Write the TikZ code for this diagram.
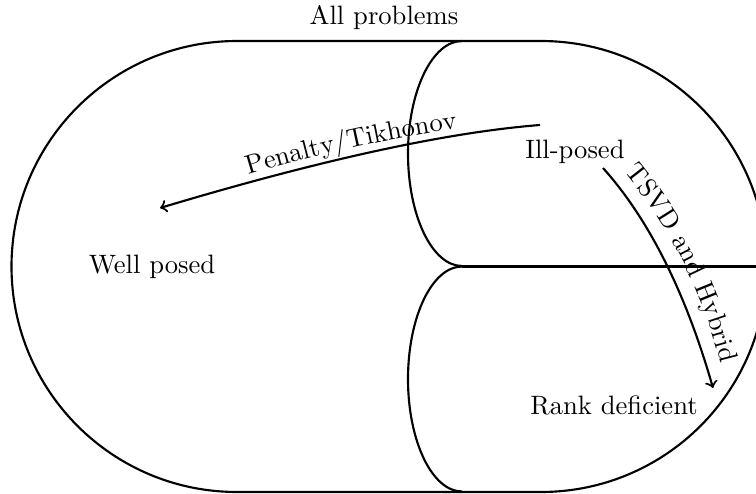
\documentclass[tikz,border=0pt]{standalone}
\usetikzlibrary{decorations.text}
\begin{document}
\begin{tikzpicture}[x=0.376pt,y=0.376pt,
  outline/.style={line width=0.8pt},
  flow/.style={->,line width=0.8pt},
  lbl/.style={inner sep=2pt},
  alongtext/.style={decorate,decoration={text along path,text={#1}}}]
\useasboundingbox (0,0) rectangle (756,493);
\begin{scope}
\clip (0,0) rectangle (756,493);
\draw[outline] (237,452) -- (541,452) arc (90:-90:225.5) -- (237,1) arc (270:90:225.5) -- cycle;
\draw[outline] (462,452) arc (90:270:54 and 112.5);
\draw[outline] (462,226.5) arc (90:270:54 and 112.5);
\draw[outline] (462,226.5) -- (800,226.5);
\end{scope}
\node[lbl] (all) at (384,475) {All problems};
\node[lbl] (ill) at (575,341) {Ill-posed};
\node[lbl] (well) at (152,226) {Well posed};
\node[lbl] (rank) at (614,88) {Rank deficient};
\coordinate (p0) at (540,368);
\coordinate (p1) at (160,285);
\coordinate (t0) at (603,325);
\coordinate (t1) at (713,105);
\draw[flow] (p0) .. controls (446.7,360.7) and (320,333) .. (p1);
\draw[flow] (t0) .. controls (649,273.7) and (685.7,200.3) .. (t1);
\coordinate (pa) at (249,318);
\coordinate (pb) at (460,365);
\coordinate (tz) at (624.4,321);
\coordinate (ta) at (633,310);
\coordinate (tb) at (724,115);
\path[alongtext={Penalty/Tikhonov}] (pa) .. controls (318.2,338.9) and (388.5,354.5) .. (pb);
\path[alongtext={TSVD and Hybrid}] (tz) -- (ta) .. controls (678.3,252) and (708.7,187) .. (tb);
\end{tikzpicture}
\end{document}
